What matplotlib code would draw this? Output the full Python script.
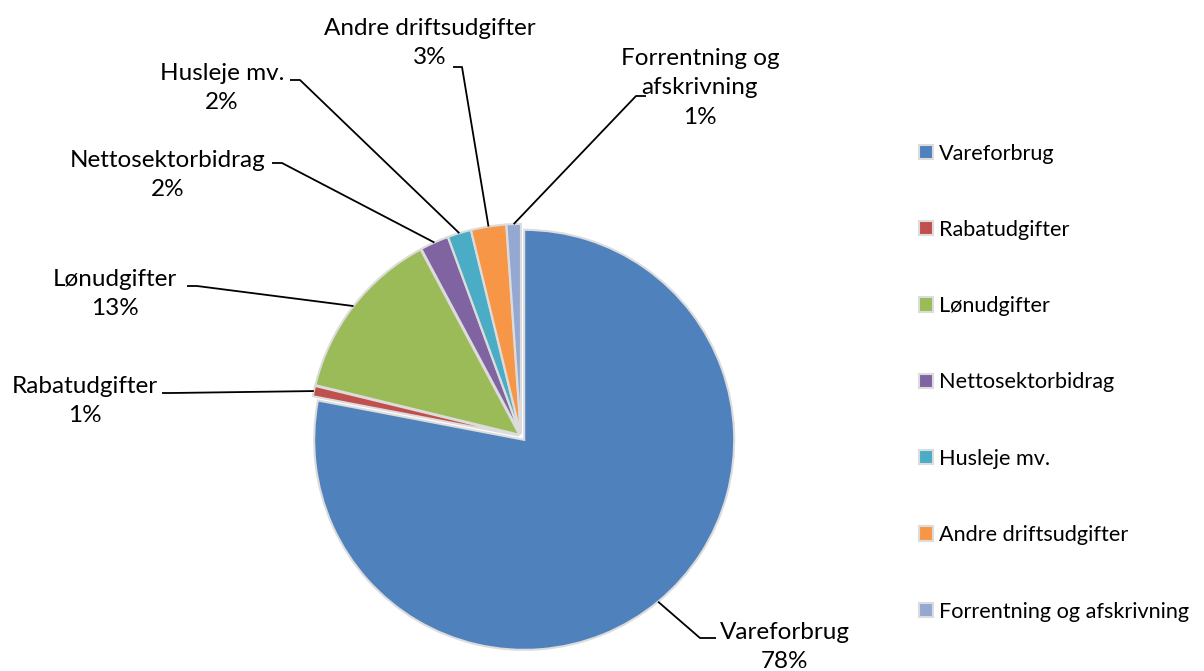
import numpy as np
import matplotlib
matplotlib.use("Agg")
import matplotlib.pyplot as plt

plt.rcParams['font.family'] = ['Lato', 'DejaVu Sans']

categories = ["Vareforbrug", "Rabatudgifter", "Lønudgifter", "Nettosektorbidrag",
              "Husleje mv.", "Andre driftsudgifter", "Forrentning og afskrivning"]
values = [78.0, 0.8, 13.4, 2.2, 1.8, 2.7, 1.1]
pie_labels = ["Vareforbrug", "Rabatudgifter", "Lønudgifter", "Nettosektorbidrag",
              "Husleje mv.", "Andre driftsudgifter", "Forrentning og\nafskrivning"]
colors = ["#4f81bd", "#c0504d", "#9bbb59", "#8064a2", "#4bacc6", "#f79646", "#94a8d2"]

W, H = 1204, 671
fig = plt.figure(figsize=(W / 100, H / 100), dpi=100)
ax = fig.add_axes([0, 0, 1, 1])

def Y(py):
    return H - py

# pie geometry in pixel units
cx, cy, R = 521, Y(436), 210
explode = [5, 2, 2, 2, 2, 2, 2]

wedges, _ = ax.pie(values, startangle=90, counterclock=False, center=(cx, cy),
                   radius=R, colors=colors, explode=explode,
                   wedgeprops=dict(edgecolor="#dcdcdc", linewidth=1.5))

# label layout: text center, stub end (near text), elbow (start of slanted line)
text_pos = [(785, 647), (85, 401), (115, 294), (168, 175), (222, 88), (430, 43), (700, 88)]
stub_end = [(716, 638), (162, 393), (187, 286), (272, 163), (290, 80), (453, 67), (646, 96)]
elbow = [(700, 638), (172, 393), (197, 286), (282, 163), (300, 80), (462, 67), (636, 96)]

for i, w in enumerate(wedges):
    tm = np.deg2rad((w.theta1 + w.theta2) / 2)
    ex = w.center[0] + w.r * np.cos(tm)
    ey = w.center[1] + w.r * np.sin(tm)
    pct = "%d%%" % round(values[i])
    ax.text(text_pos[i][0], Y(text_pos[i][1]), pie_labels[i] + "\n" + pct,
            ha="center", va="center", fontsize=17.5, linespacing=1.5, color="black")
    ax.plot([ex, elbow[i][0], stub_end[i][0]], [ey, Y(elbow[i][1]), Y(stub_end[i][1])],
            color="black", lw=1.3, solid_capstyle="butt")

ax.legend(wedges, categories, loc="upper left", bbox_to_anchor=(899 / W, Y(124) / H),
          frameon=False, fontsize=15.6, labelspacing=2.6, handlelength=0.65,
          handleheight=0.65, handletextpad=0.3)

ax.set_xlim(0, W)
ax.set_ylim(0, H)
ax.set_aspect("equal")
ax.axis("off")

fig.savefig("out.png", dpi=100)
